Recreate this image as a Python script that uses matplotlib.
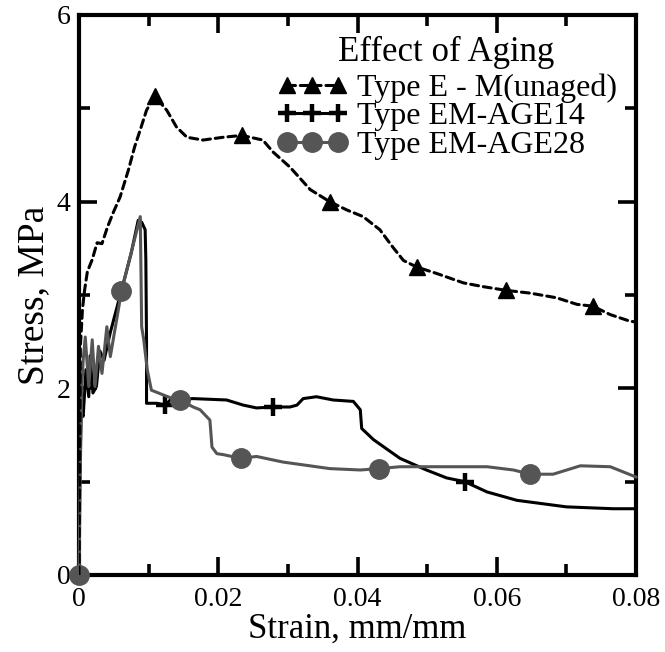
import numpy as np
import matplotlib
matplotlib.use("Agg")
import matplotlib.pyplot as plt

plt.rcParams["font.family"] = ["Liberation Serif", "DejaVu Serif"]

# Stress-strain data (strain in mm/mm, stress in MPa)
strain_unaged = [0, 0.0002, 0.0005, 0.0008, 0.0012, 0.0019, 0.0026, 0.0033, 0.0041, 0.0049,
                 0.0059, 0.0071, 0.0080, 0.0088, 0.0097, 0.0109, 0.0126, 0.0140, 0.0155, 0.0178,
                 0.0207, 0.0234, 0.0264, 0.0279, 0.0303, 0.0332, 0.0360, 0.0385, 0.0408, 0.0432,
                 0.0451, 0.0466, 0.0485, 0.0514, 0.0552, 0.0580, 0.0613, 0.0648, 0.0686, 0.0715,
                 0.0738, 0.0763, 0.0791, 0.0800]
stress_unaged = [0, 2.45, 2.85, 3.05, 3.25, 3.38, 3.56, 3.55, 3.73, 3.88,
                 4.05, 4.34, 4.59, 4.77, 4.98, 5.13, 4.98, 4.80, 4.69, 4.66,
                 4.69, 4.71, 4.66, 4.53, 4.37, 4.13, 4.00, 3.91, 3.84, 3.70,
                 3.51, 3.37, 3.30, 3.23, 3.13, 3.09, 3.05, 3.02, 2.97, 2.90,
                 2.88, 2.79, 2.72, 2.71]
marks_unaged = [0.0109, 0.0234, 0.0360, 0.0485, 0.0613, 0.0738]

strain_age14 = [0, 0.0001, 0.0003, 0.0006, 0.0010, 0.0014, 0.0016, 0.0020, 0.0025, 0.0030,
                0.0036, 0.0045, 0.0061, 0.0075, 0.0085, 0.0090, 0.0095, 0.0096, 0.0097, 0.0097,
                0.0112, 0.0124, 0.0131, 0.0164, 0.0212, 0.0236, 0.0255, 0.0279, 0.0303, 0.0313,
                0.0322, 0.0341, 0.0365, 0.0394, 0.0404, 0.0406, 0.0423, 0.0461, 0.0499, 0.0528,
                0.0554, 0.0586, 0.0629, 0.0700, 0.0767, 0.0800]
stress_age14 = [0, 1.00, 1.75, 1.70, 2.20, 1.91, 2.35, 1.95, 2.02, 2.40,
                2.30, 2.60, 3.05, 3.45, 3.80, 3.78, 3.70, 3.38, 2.50, 1.84,
                1.84, 1.82, 1.875, 1.89, 1.875, 1.82, 1.79, 1.80, 1.80, 1.82,
                1.89, 1.91, 1.875, 1.86, 1.77, 1.57, 1.45, 1.25, 1.125, 1.04,
                1.00, 0.89, 0.80, 0.73, 0.71, 0.71]
marks_age14 = [0.0124, 0.0279, 0.0554]

strain_age28 = [0, 0.0002, 0.0004, 0.0006, 0.0009, 0.0014, 0.0019, 0.0023, 0.0028, 0.0033,
                0.0040, 0.0045, 0.0061, 0.0088, 0.0090, 0.0093, 0.0098, 0.0104, 0.0131, 0.0145,
                0.0164, 0.0174, 0.0188, 0.0191, 0.0198, 0.0207, 0.0232, 0.0255, 0.0293, 0.0341,
                0.0360, 0.0404, 0.0431, 0.0461, 0.0586, 0.0624, 0.0648, 0.0681, 0.0720, 0.0763,
                0.0800]
stress_age28 = [0, 1.20, 2.00, 2.30, 2.55, 2.02, 2.52, 2.02, 2.45, 2.16,
                2.66, 2.34, 3.04, 3.84, 2.66, 2.52, 2.20, 1.98, 1.90, 1.875,
                1.80, 1.77, 1.66, 1.37, 1.30, 1.29, 1.25, 1.27, 1.21, 1.16,
                1.14, 1.125, 1.14, 1.16, 1.16, 1.125, 1.08, 1.08, 1.17, 1.16,
                1.05]
marks_age28 = [0, 0.0061, 0.0145, 0.0232, 0.0431, 0.0648]

labels = ["Type E - M(unaged)", "Type EM-AGE14", "Type EM-AGE28"]
legend_title = "Effect of Aging"
x_ticks = [0, 0.02, 0.04, 0.06, 0.08]
x_ticklabels = ["0", "0.02", "0.04", "0.06", "0.08"]
y_ticks = [0, 2, 4, 6]


def mark_index(xs, marks):
    xs = np.asarray(xs)
    return [int(np.argmin(np.abs(xs - m))) for m in marks]


fig = plt.figure(figsize=(6.65, 6.52), dpi=100)
ax = fig.add_axes([0.1188, 0.1181, 0.8376, 0.8589])

grey = "#555555"
h14, = ax.plot(strain_age14, stress_age14, color="black", lw=2.2, marker="+", ms=13,
               mew=3.2, markevery=mark_index(strain_age14, marks_age14), zorder=3,
               clip_on=False)
h28, = ax.plot(strain_age28, stress_age28, color=grey, lw=2.2, marker="o", ms=14, mec=grey,
               markevery=mark_index(strain_age28, marks_age28), zorder=4, clip_on=False)
hun, = ax.plot(strain_unaged, stress_unaged, color="black", lw=2.2, ls=(0, (2.6, 1.6)),
               dash_capstyle="round", marker="^", ms=11.5,
               markevery=mark_index(strain_unaged, marks_unaged), zorder=5)

ax.set_xlim(0, 0.08)
ax.set_ylim(0, 6)
ax.set_xticks(x_ticks)
ax.set_xticklabels(x_ticklabels)
ax.set_yticks(y_ticks)
ax.set_xticks([0.01, 0.03, 0.05, 0.07], minor=True)
ax.set_yticks([1, 3, 5], minor=True)
ax.tick_params(which="both", direction="in", top=True, right=True, width=2.6,
               labelsize=20)
ax.tick_params(which="major", length=13)
ax.tick_params(which="minor", length=8)
ax.tick_params(axis="x", pad=9)
ax.tick_params(axis="y", pad=6)
for s in ax.spines.values():
    s.set_linewidth(3)

ax.set_xlabel("Strain, mm/mm", fontsize=25, labelpad=0)
ax.set_ylabel("Stress, MPa", fontsize=27, labelpad=4)

ax.text(0.465, 0.918, legend_title, transform=ax.transAxes, fontsize=25,
        ha="left", va="baseline")
ax.legend([hun, h14, h28], labels, fontsize=23,
          loc="upper left", bbox_to_anchor=(0.3555, 0.896), frameon=False,
          numpoints=3, handlelength=2.2, handletextpad=0.31,
          labelspacing=-0.02, borderpad=0, borderaxespad=0)

fig.savefig("out.png", dpi=100)
